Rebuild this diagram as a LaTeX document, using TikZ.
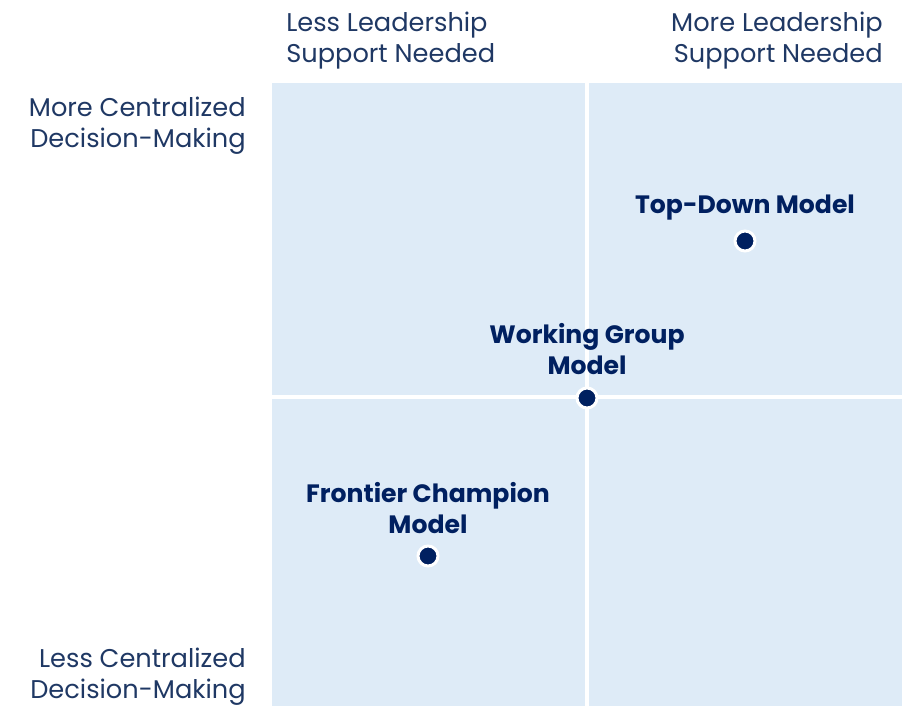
\documentclass[tikz,border=0pt]{standalone}
\usepackage{fontspec}
\setmainfont{Poppins}
\usetikzlibrary{positioning}
\definecolor{panelblue}{HTML}{DEEBF7}
\definecolor{axisnavy}{HTML}{1F3864}
\definecolor{modelnavy}{HTML}{002060}
\tikzset{
  axislabel/.style={text=axisnavy,inner sep=0pt,font=\fontsize{14.6}{17.6}\selectfont},
  modellabel/.style={text=modelnavy,inner sep=0pt,align=center,font=\fontsize{14.3}{17.6}\selectfont\bfseries},
  modeldot/.style={circle,fill=modelnavy,draw=white,line width=1.7pt,minimum size=0.4cm,inner sep=0pt}
}
\begin{document}
\begin{tikzpicture}[x=0.02cm,y=-0.02cm]
\useasboundingbox (0,0) rectangle (908,706);
%
\fill[panelblue] (272,83) rectangle (902,706);
\draw[white,line width=2.2pt] (587,83) -- (587,706);
\draw[white,line width=2.2pt] (272,397) -- (902,397);
%
\node[axislabel,anchor=west,align=left] (lesssupport) at (286,41) {Less Leadership\\Support Needed};
\node[axislabel,anchor=east,align=right] (moresupport) at (883,41) {More Leadership\\Support Needed};
\node[axislabel,anchor=east,align=right] (morecentral) at (246,126) {More Centralized\\Decision-Making};
\node[axislabel,anchor=east,align=right] (lesscentral) at (246,677) {Less Centralized\\Decision-Making};
%
\node[modeldot] (topdown) at (745,241) {};
\node[modeldot] (working) at (587,398) {};
\node[modeldot] (frontier) at (428,556) {};
%
\node[modellabel] (topdownlabel) at (745,208) {Top-Down Model};
\node[modellabel] (workinglabel) at (587,349) {Working Group\\Model};
\node[modellabel] (frontierlabel) at (428,508) {Frontier Champion\\Model};
\end{tikzpicture}
\end{document}
